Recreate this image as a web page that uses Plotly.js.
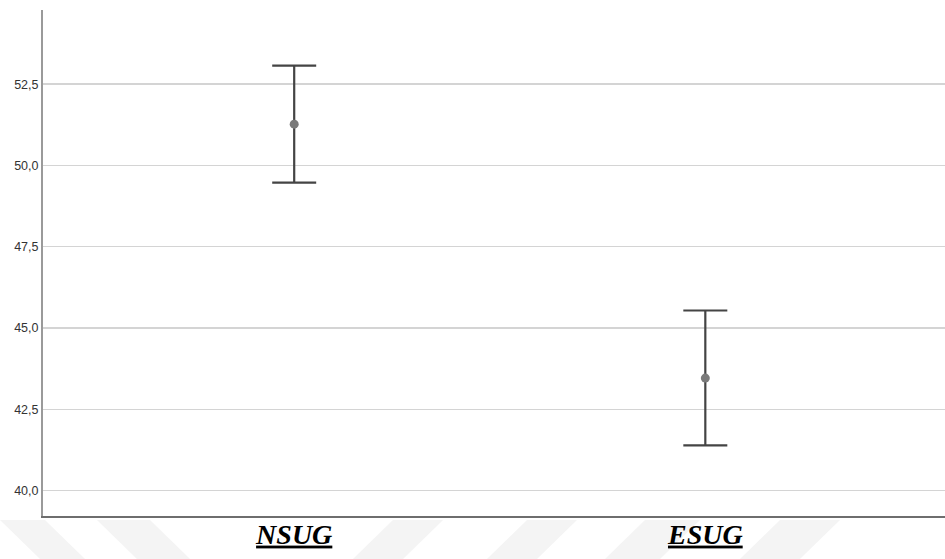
<!DOCTYPE html>
<html>
<head>
<meta charset="utf-8">
<script src="https://cdn.plot.ly/plotly-3.0.1.min.js"></script>
<style>html,body{margin:0;padding:0;background:#fff;}#chart{width:945px;height:559px;}</style>
</head>
<body>
<div id="chart"></div>
<script>
// Data
const groups = ["NSUG", "ESUG"];
const means = [51.27, 43.46];
const upper = [53.07, 45.54];
const lower = [49.47, 41.39];

const errPlus = means.map((m, i) => upper[i] - m);
const errMinus = means.map((m, i) => m - lower[i]);

const W = 945, H = 559, L = 43, T = 10, B = 43, R = 0;
const pw = W - L - R, ph = H - T - B;
function px(x) { return (x - L) / pw; }
function py(y) { return (H - B - y) / ph; }

// faint watermark stripes (decoration)
const stripes = [
  [[0,520],[45,520],[85,559],[40,559]],
  [[97,520],[150,520],[190,559],[137,559]],
  [[393,520],[443,520],[403,559],[353,559]],
  [[527,520],[577,520],[537,559],[487,559]],
  [[645,520],[700,520],[660,559],[605,559]],
  [[780,520],[840,520],[800,559],[740,559]]
];
const shapes = stripes.map(s => ({
  type: 'path', xref: 'paper', yref: 'paper', layer: 'below',
  path: 'M' + s.map(p => px(p[0]).toFixed(4) + ',' + py(p[1]).toFixed(4)).join(' L') + ' Z',
  fillcolor: '#f4f4f4', line: {width: 0}
}));

const trace = {
  type: 'scatter', mode: 'markers',
  x: groups, y: means,
  marker: {color: '#7a7a7a', size: 9},
  error_y: {type: 'data', symmetric: false, array: errPlus, arrayminus: errMinus,
            color: '#444444', thickness: 2.2, width: 22},
  hoverinfo: 'none'
};

const layout = {
  width: W, height: H,
  margin: {l: L, r: R, t: T, b: B, pad: 0},
  paper_bgcolor: '#ffffff', plot_bgcolor: 'rgba(0,0,0,0)',
  separators: ',.',
  showlegend: false,
  shapes: shapes,
  xaxis: {
    type: 'category', range: [-0.611, 1.583],
    showgrid: false, zeroline: false,
    showline: true, linecolor: '#6e6e6e', linewidth: 2,
    ticks: '', ticklen: 0, ticklabelstandoff: -8,
    tickfont: {family: 'Liberation Serif, Times New Roman, serif', size: 28, color: '#000',
               weight: 'bold', style: 'italic', lineposition: 'under'},
    fixedrange: true
  },
  yaxis: {
    range: [39.22, 54.78],
    tickvals: [40, 42.5, 45, 47.5, 50, 52.5],
    tickformat: '.1f',
    showgrid: true, gridcolor: '#d4d4d4', gridwidth: 1.5,
    zeroline: false,
    showline: true, linecolor: '#9a9a9a', linewidth: 2,
    ticks: '', ticklen: 0,
    tickfont: {family: 'Liberation Sans, Arial, sans-serif', size: 12.5, color: '#333'},
    fixedrange: true
  }
};

Plotly.newPlot('chart', [trace], layout, {staticPlot: true, displayModeBar: false});
</script>
</body>
</html>
